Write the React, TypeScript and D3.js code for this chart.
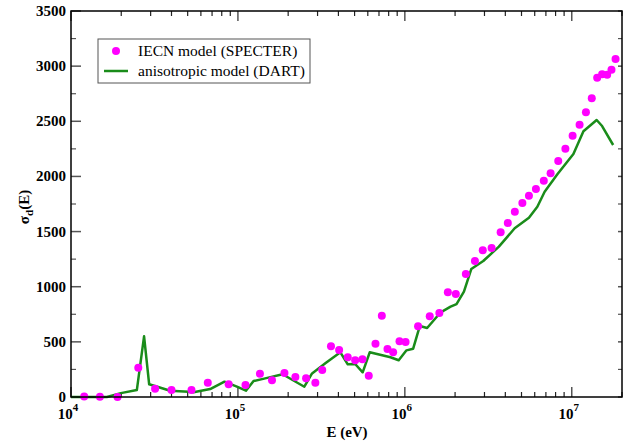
import React from "react";
import * as d3 from "d3";

const dotE = [1.2e4,1.49e4,1.9e4,2.53e4,3.19e4,4.0e4,5.27e4,6.6e4,8.8e4,1.11e5,1.355e5,1.6e5,1.9e5,2.21e5,2.56e5,2.91e5,3.2e5,3.61e5,4.04e5,4.55e5,5.04e5,5.57e5,6.08e5,6.67e5,7.28e5,7.87e5,8.51e5,9.29e5,1.01e6,1.2e6,1.41e6,1.61e6,1.81e6,2.02e6,2.32e6,2.63e6,2.93e6,3.31e6,3.75e6,4.14e6,4.56e6,5.06e6,5.54e6,6.1e6,6.8e6,7.47e6,8.3e6,9.16e6,1.012e7,1.114e7,1.216e7,1.318e7,1.42e7,1.52e7,1.63e7,1.73e7,1.83e7];
const dotSigma = [5,3,0,266,75,63,63,130,115,109,211,151,218,181,170,130,245,460,426,360,333,342,193,483,737,435,405,505,499,641,732,762,949,934,1115,1233,1330,1351,1493,1578,1680,1759,1825,1886,1961,2028,2140,2251,2369,2469,2581,2708,2895,2926,2922,2968,3065];

const lineE = [1e4,1.64e4,1.99e4,2.48e4,2.74e4,2.94e4,3.93e4,5.06e4,5.42e4,6.82e4,8.31e4,9.86e4,1.117e5,1.241e5,1.458e5,1.852e5,2.5e5,2.78e5,3.34e5,4.11e5,4.55e5,5.04e5,5.59e5,6.16e5,8.2e5,9.19e5,1.023e6,1.122e6,1.23e6,1.36e6,1.64e6,1.88e6,2.04e6,2.26e6,2.5e6,2.95e6,3.66e6,4.55e6,5.54e6,6.22e6,6.88e6,8.2e6,1.023e7,1.175e7,1.41e7,1.52e7,1.77e7];
const lineSigma = [0,0,35,63,550,115,57,48,43,72,139,94,57,145,169,206,93,214,305,405,296,299,224,405,360,333,423,438,644,626,768,819,843,955,1160,1233,1363,1530,1626,1725,1861,2019,2203,2409,2512,2457,2285];

const yTicks = [0,500,1000,1500,2000,2500,3000,3500];
const xDecades = [4,5,6,7];
const legendLabels = ["IECN model (SPECTER)", "anisotropic model (DART)"];

const W = 628, H = 441;
const L = 71, R = 622, T = 11, B = 397;
const serif = "'Liberation Serif', 'DejaVu Serif', serif";
const DOT = "#ff00ff";
const GREEN = "#1a8c1a";

export default function App() {
  const x = d3.scaleLog().domain([1e4, 2e7]).range([L, R]);
  const y = d3.scaleLinear().domain([0, 3500]).range([B, T]);

  const minorX: number[] = [];
  for (let dcd = 4; dcd <= 7; dcd++) {
    for (let m = 2; m <= 9; m++) {
      const v = m * Math.pow(10, dcd);
      if (v <= 2e7) minorX.push(v);
    }
  }
  const minorY: number[] = [];
  for (let v = 250; v < 3500; v += 500) minorY.push(v);

  const line = d3.line<number>()
    .x((_, i) => x(lineE[i]))
    .y((d) => y(d));

  const tickCol = "#555";

  return (
    <svg width={W} height={H} style={{ position: "fixed", left: 0, top: 0, background: "#fff" }}>
      <rect x={0} y={0} width={W} height={H} fill="#fff" />
      {xDecades.map((p) => {
        const xx = x(Math.pow(10, p));
        return (
          <g key={"mx" + p}>
            <line x1={xx} x2={xx} y1={B} y2={B - 10} stroke={tickCol} strokeWidth={1.5} />
            <line x1={xx} x2={xx} y1={T} y2={T + 10} stroke={tickCol} strokeWidth={1.5} />
          </g>
        );
      })}
      {minorX.map((v, i) => {
        const xx = x(v);
        return (
          <g key={"nx" + i}>
            <line x1={xx} x2={xx} y1={B} y2={B - 5} stroke="#222" strokeWidth={1.2} />
            <line x1={xx} x2={xx} y1={T} y2={T + 5} stroke="#222" strokeWidth={1.2} />
          </g>
        );
      })}
      {yTicks.map((v) => (
        <g key={"my" + v}>
          <line x1={L} x2={L + 10} y1={y(v)} y2={y(v)} stroke={tickCol} strokeWidth={1.5} />
          <line x1={R} x2={R - 4} y1={y(v)} y2={y(v)} stroke={tickCol} strokeWidth={1.5} />
        </g>
      ))}
      {minorY.map((v) => (
        <g key={"ny" + v}>
          <line x1={L} x2={L + 5} y1={y(v)} y2={y(v)} stroke={tickCol} strokeWidth={1.2} />
          <line x1={R} x2={R - 4} y1={y(v)} y2={y(v)} stroke={tickCol} strokeWidth={1.2} />
        </g>
      ))}

      <path d={line(lineSigma) || ""} fill="none" stroke={GREEN} strokeWidth={2.5} strokeLinejoin="round" />
      {dotE.map((e, i) => (
        <circle key={"d" + i} cx={x(e)} cy={y(dotSigma[i])} r={4} fill={DOT} />
      ))}

      <rect x={L} y={T} width={R - L} height={B - T} fill="none" stroke="#000" strokeWidth={1.5} />

      {yTicks.map((v) => (
        <text key={"yl" + v} x={66} y={y(v) + 5} textAnchor="end" fontFamily={serif} fontWeight="bold" fontSize={15} fill="#000">
          {v}
        </text>
      ))}
      {xDecades.map((p) => (
        <text key={"xl" + p} x={x(Math.pow(10, p)) - 3} y={419} textAnchor="middle" fontFamily={serif} fontWeight="bold" fontSize={15} fill="#000">
          10<tspan dy={-8} fontSize={11}>{p}</tspan>
        </text>
      ))}

      <text x={347} y={437} textAnchor="middle" fontFamily={serif} fontWeight="bold" fontSize={15} fill="#000">E (eV)</text>
      <text transform="translate(29,207) rotate(-90)" textAnchor="middle" fontFamily={serif} fontWeight="bold" fontSize={15} fill="#000">
        σ<tspan dy={4} fontSize={11}>d</tspan><tspan dy={-4}>(E)</tspan>
      </text>

      <rect x={98} y={39} width={212} height={44} fill="#fff" stroke="#555" strokeWidth={1} />
      <circle cx={116} cy={51} r={4} fill={DOT} />
      <line x1={104} x2={128} y1={71} y2={71} stroke={GREEN} strokeWidth={2.5} />
      <text x={138} y={56} fontFamily={serif} fontSize={15.5} fill="#000">{legendLabels[0]}</text>
      <text x={138} y={76} fontFamily={serif} fontSize={15.5} fill="#000">{legendLabels[1]}</text>
    </svg>
  );
}
